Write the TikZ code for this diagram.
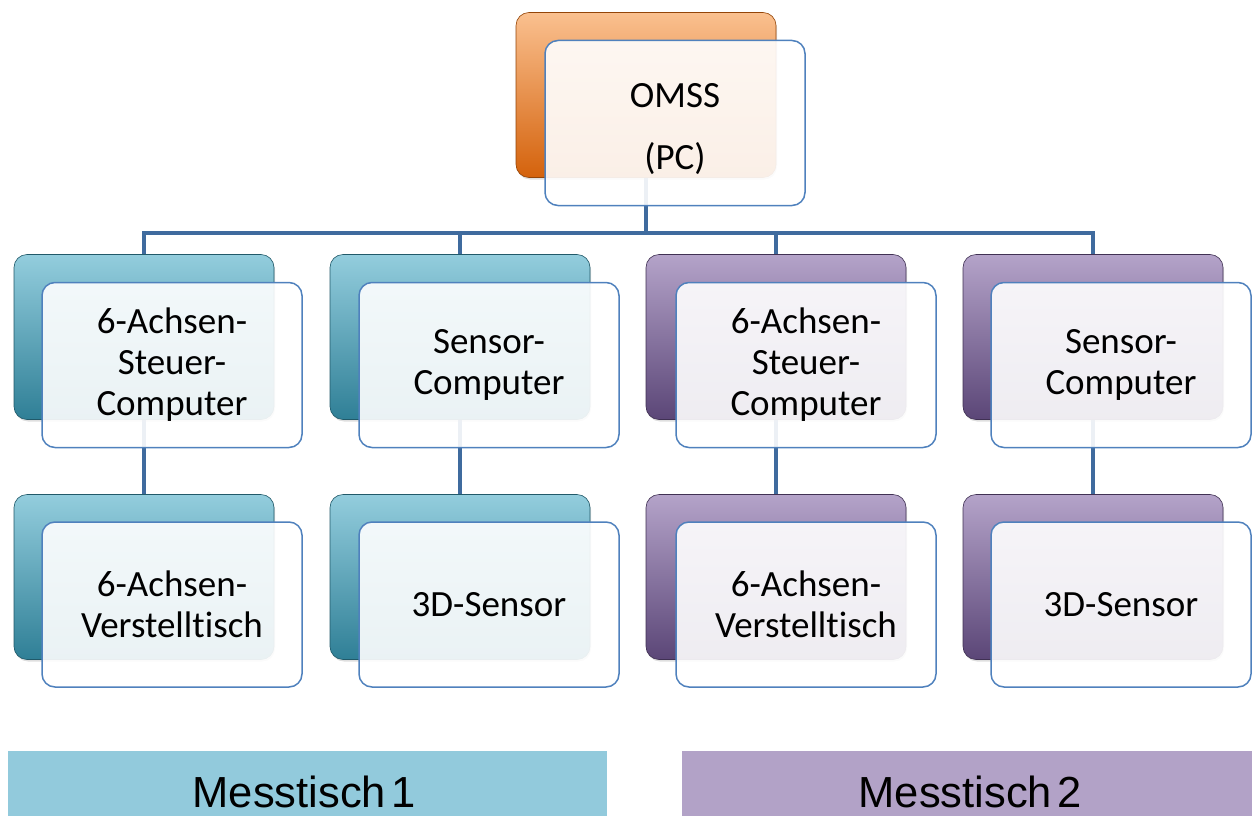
\documentclass[tikz,border=0pt]{standalone}
\usepackage{fontspec}
\setmainfont{Carlito}[RawFeature=-liga]
\newfontfamily\barfont{Liberation Sans}
\usetikzlibrary{shadows}

\definecolor{linkblue}{HTML}{3F6B9E}
\definecolor{frameblue}{HTML}{4F81BD}
\definecolor{orangetop}{HTML}{FAC08F}
\definecolor{orangebot}{HTML}{D4620C}
\definecolor{tealtop}{HTML}{93CDDD}
\definecolor{tealbot}{HTML}{2F7F96}
\definecolor{purpletop}{HTML}{B4A3C9}
\definecolor{purplebot}{HTML}{5B4677}
\definecolor{tealbar}{HTML}{92CADC}
\definecolor{purplebar}{HTML}{B2A2C7}

\tikzset{
  card/.style={rounded corners=13pt, minimum width=260pt, minimum height=165pt,
    inner sep=0pt},
  backcard/.style={card, draw=#1bot!70!black, line width=0.6pt,
    top color=#1top, bottom color=#1bot,
    drop shadow={shadow xshift=1pt, shadow yshift=-2pt, opacity=0.25}},
  frontcard/.style={card, draw=frameblue, line width=1.5pt, fill=white,
    fill opacity=0.9, text opacity=1, align=center,
    font=\fontsize{37}{41}\selectfont},
  cardtext/.style={inner sep=0pt, align=center, font=\fontsize{37}{41}\selectfont},
  link/.style={draw=linkblue, line width=4pt},
  bar/.style={minimum width=599pt, minimum height=65pt, inner sep=0pt},
  barlabel/.style={anchor=base, inner sep=0pt,
    font=\barfont\fontsize{43.5}{50}\selectfont},
}

\begin{document}
\begin{tikzpicture}[x=1pt,y=-1pt]
\useasboundingbox (0,0) rectangle (1252,816);

% connectors run behind the cards, between the back panels
\coordinate (bus) at (646,233);
\node[card] (omssB) at (646,95) {};
\node[card] (a1B) at (144,337) {};
\node[card] (s1B) at (460,337) {};
\node[card] (a2B) at (776,337) {};
\node[card] (s2B) at (1093,337) {};
\node[card] (t1B) at (144,577) {};
\node[card] (d1B) at (460,577) {};
\node[card] (t2B) at (776,577) {};
\node[card] (d2B) at (1093,577) {};

\draw[link] (omssB.south) -- (bus);
\draw[link] (a1B.north) |- (bus) -| (s2B.north);
\draw[link] (s1B.north) -- (s1B.north |- bus);
\draw[link] (a2B.north) -- (a2B.north |- bus);
\draw[link] (a1B.south) -- (t1B.north);
\draw[link] (s1B.south) -- (d1B.north);
\draw[link] (a2B.south) -- (t2B.north);
\draw[link] (s2B.south) -- (d2B.north);

% coloured back panels
\node[backcard=orange] at (omssB) {};
\node[backcard=teal] at (a1B) {};
\node[backcard=teal] at (s1B) {};
\node[backcard=purple] at (a2B) {};
\node[backcard=purple] at (s2B) {};
\node[backcard=teal] at (t1B) {};
\node[backcard=teal] at (d1B) {};
\node[backcard=purple] at (t2B) {};
\node[backcard=purple] at (d2B) {};

% translucent text cards in front
\node[frontcard] (omss) at (675,123) {};
\node[cardtext] (omsst) at (675,129) {OMSS\\[21pt](PC)};
\node[frontcard] (a1) at (172,365) {6-Achsen-\\Steuer-\\Computer};
\node[frontcard] (s1) at (489,365) {Sensor-\\Computer};
\node[frontcard] (a2) at (806,365) {6-Achsen-\\Steuer-\\Computer};
\node[frontcard] (s2) at (1121,365) {Sensor-\\Computer};
\node[frontcard] (t1) at (172,604.5) {6-Achsen-\\Verstelltisch};
\node[frontcard] (d1) at (489,604.5) {3D-Sensor};
\node[frontcard] (t2) at (806,604.5) {6-Achsen-\\Verstelltisch};
\node[frontcard] (d2) at (1121,604.5) {3D-Sensor};

% table labels
\node[bar, fill=tealbar] (m1) at (307.5,783.5) {};
\node[bar, fill=purplebar, minimum width=570pt] (m2) at (967,783.5) {};
\node[barlabel] (m1t) at (304,807) {Messtisch\hspace{0.12em}1};
\node[barlabel] (m2t) at (970,807) {Messtisch\hspace{0.12em}2};
\end{tikzpicture}
\end{document}
